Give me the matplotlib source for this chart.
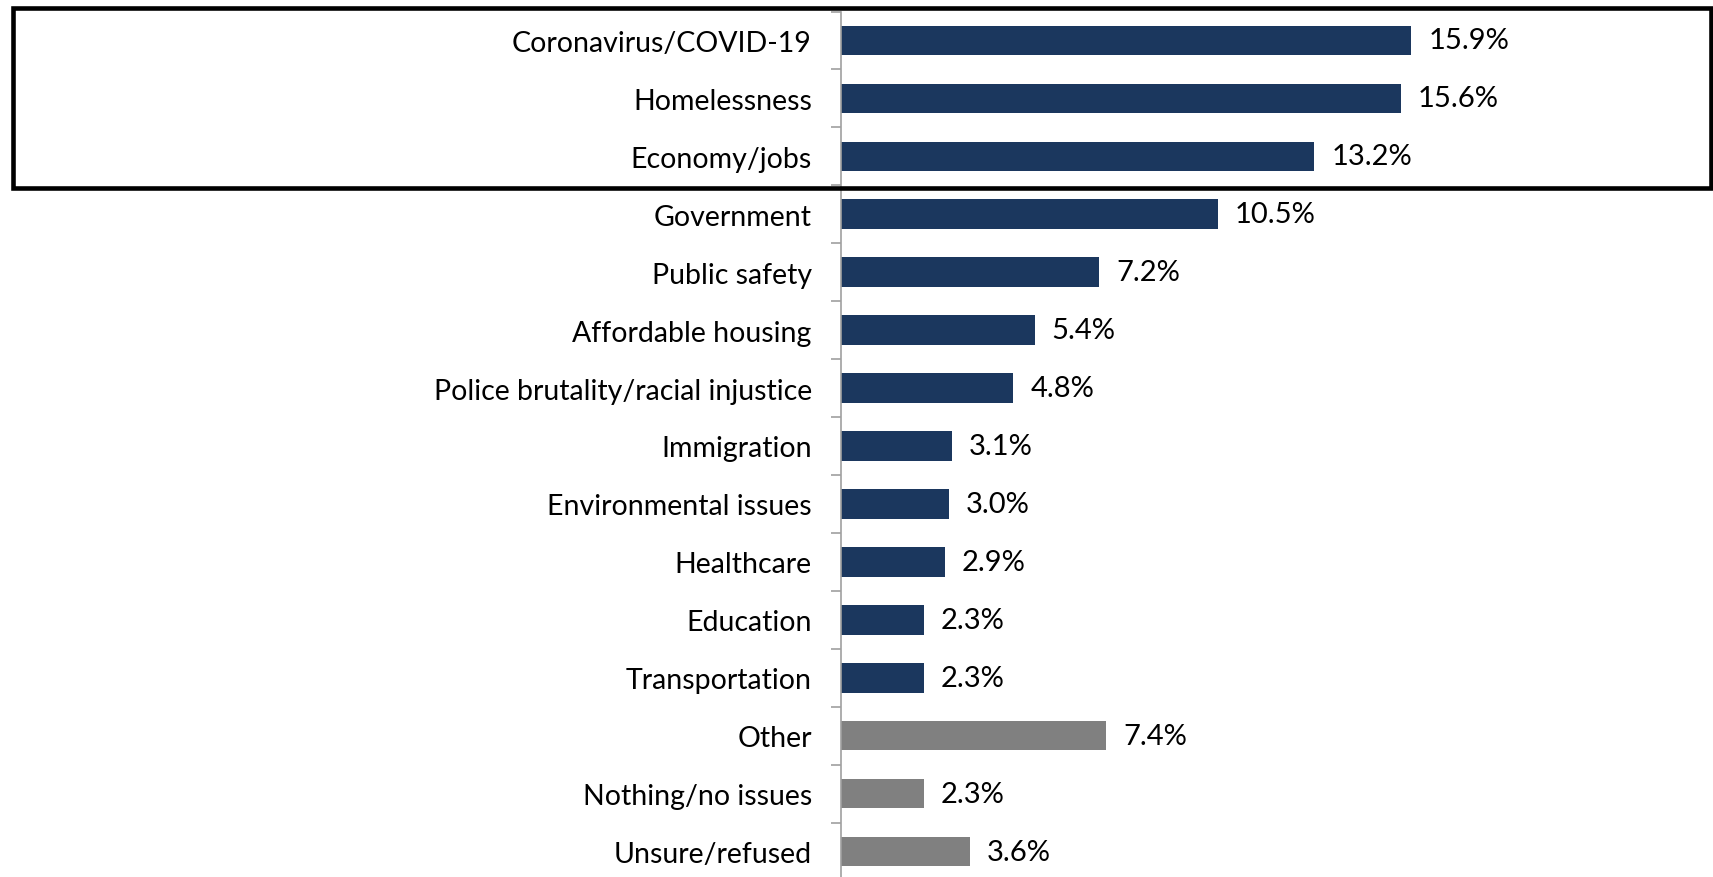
import matplotlib
matplotlib.use("Agg")
import matplotlib.pyplot as plt
from matplotlib.patches import Rectangle

categories = ["Coronavirus/COVID-19", "Homelessness", "Economy/jobs", "Government",
              "Public safety", "Affordable housing", "Police brutality/racial injustice",
              "Immigration", "Environmental issues", "Healthcare", "Education",
              "Transportation", "Other", "Nothing/no issues", "Unsure/refused"]
values = [15.9, 15.6, 13.2, 10.5, 7.2, 5.4, 4.8, 3.1, 3.0, 2.9, 2.3, 2.3, 7.4, 2.3, 3.6]
labels = ["15.9%", "15.6%", "13.2%", "10.5%", "7.2%", "5.4%", "4.8%", "3.1%", "3.0%",
          "2.9%", "2.3%", "2.3%", "7.4%", "2.3%", "3.6%"]
groups = ["issue"] * 12 + ["other"] * 3

NAVY = "#1B375E"
GRAY = "#808080"
colors = [NAVY if g == "issue" else GRAY for g in groups]

plt.rcParams['font.family'] = ['Lato', 'DejaVu Sans']

W, H = 1713, 878
fig = plt.figure(figsize=(W / 100, H / 100), dpi=100)
ax_left = 841 / W
ax_top = 1 - 12.5 / H
ax_bottom = 1 - 881.5 / H
ax = fig.add_axes([ax_left, ax_bottom, 1 - ax_left, ax_top - ax_bottom])

y = list(range(len(categories)))
ax.barh(y, values, height=0.51, color=colors)
ax.set_ylim(len(categories) - 0.5, -0.5)
ax.set_xlim(0, (W - 841) / 35.87)

for yi, v, lab in zip(y, values, labels):
    ax.annotate(lab, (v, yi), xytext=(17, 0), textcoords="offset pixels",
                va="center", ha="left", fontsize=21, color="black")

ax.set_yticks(y)
ax.set_yticklabels(categories, fontsize=20.5)
ax.tick_params(axis="y", which="major", length=0, pad=21)
ax.set_yticks([i - 0.5 for i in range(len(categories) + 1)], minor=True)
ax.tick_params(axis="y", which="minor", length=7, color="#A0A0A0", width=1.2, direction="out")
ax.set_xticks([])
for s in ["top", "right", "bottom"]:
    ax.spines[s].set_visible(False)
ax.spines["left"].set_color("#A0A0A0")
ax.spines["left"].set_linewidth(1.2)

# highlight box around top three
box = Rectangle((13 / W, 1 - 189 / H), (1711 - 13) / W, (189 - 9) / H,
                transform=fig.transFigure, fill=False, edgecolor="black",
                linewidth=3.3, zorder=10)
fig.patches.append(box)

fig.savefig("out.png", dpi=100)
